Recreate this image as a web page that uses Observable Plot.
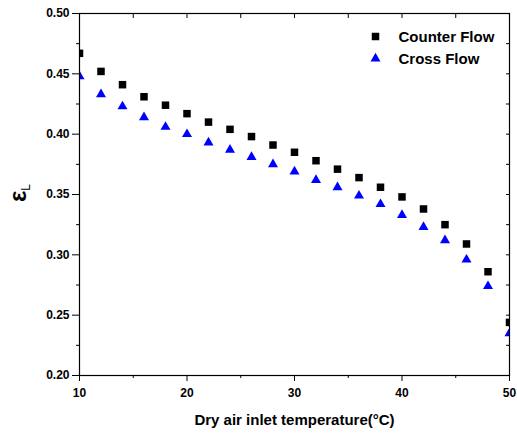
<!DOCTYPE html>
<html>
<head>
<meta charset="utf-8">
<script src="https://cdn.jsdelivr.net/npm/d3@7"></script>
<script src="https://cdn.jsdelivr.net/npm/@observablehq/plot@0.6"></script>
<style>
  body { margin: 0; background: #fff; }
  svg { font-family: "Liberation Sans", Arial, sans-serif; }
</style>
</head>
<body>
<div id="chart"></div>
<script>
// Dry air inlet temperature (°C)
const temperature = [10, 12, 14, 16, 18, 20, 22, 24, 26, 28, 30, 32, 34, 36, 38, 40, 42, 44, 46, 48, 50];
// Effectiveness ε_L for each flow arrangement
const counterFlow = [0.467, 0.452, 0.441, 0.431, 0.424, 0.417, 0.410, 0.404, 0.398, 0.391, 0.385, 0.378, 0.371, 0.364, 0.356, 0.348, 0.338, 0.325, 0.309, 0.286, 0.244];
const crossFlow   = [0.448, 0.433, 0.423, 0.414, 0.406, 0.400, 0.393, 0.387, 0.381, 0.375, 0.369, 0.362, 0.356, 0.349, 0.342, 0.333, 0.323, 0.312, 0.296, 0.274, 0.235];
const seriesNames = ["Counter Flow", "Cross Flow"];

const xTicks = [10, 20, 30, 40, 50];
const xMinorTicks = [15, 25, 35, 45];
const yTicks = [0.20, 0.25, 0.30, 0.35, 0.40, 0.45, 0.50];
const yMinorTicks = [0.225, 0.275, 0.325, 0.375, 0.425, 0.475];
const xTitle = "Dry air inlet temperature(°C)";

const counterData = temperature.map((t, i) => ({t, v: counterFlow[i]}));
const crossData = temperature.map((t, i) => ({t, v: crossFlow[i]}));

// d3 symbol sizes are areas; r is chosen so the area matches the marker
const squareR = 7.5 / Math.sqrt(Math.PI);
const triR = Math.sqrt((Math.sqrt(3) / 4 * 100) / Math.PI);

const tickFont = {fontSize: 12, fontWeight: "bold"};
const noText = () => "";

const plot = Plot.plot({
  width: 517,
  height: 437,
  marginLeft: 79,
  marginRight: 8,
  marginTop: 13,
  marginBottom: 62,
  style: {fontFamily: "'Liberation Sans', Arial, sans-serif", color: "#000", background: "#fff"},
  x: {domain: [10, 50]},
  y: {domain: [0.2, 0.5]},
  marks: [
    // outward ticks, left and bottom
    Plot.axisX(xTicks, {anchor: "bottom", tickSize: 6, tickPadding: 7, tickFormat: d => d, label: null, ...tickFont}),
    Plot.axisX(xMinorTicks, {anchor: "bottom", tickSize: 3, tickFormat: noText, label: null}),
    Plot.axisY(yTicks, {anchor: "left", tickSize: 7, tickPadding: 3, tickFormat: d3.format(".2f"), label: null, ...tickFont}),
    Plot.axisY(yMinorTicks, {anchor: "left", tickSize: 3, tickFormat: noText, label: null}),
    // inward ticks, top and right
    Plot.axisX([...xTicks, ...xMinorTicks], {anchor: "top", tickSize: -4, tickFormat: noText, label: null}),
    Plot.axisY([...yTicks, ...yMinorTicks], {anchor: "right", tickSize: -4, tickFormat: noText, label: null}),
    Plot.dot(counterData, {x: "t", y: "v", symbol: "square", r: squareR, fill: "#000", stroke: "none", clip: true}),
    Plot.dot(crossData, {x: "t", y: "v", symbol: "triangle", r: triR, fill: "#0000ff", stroke: "none", clip: true}),
    Plot.frame({stroke: "#000", strokeWidth: 1.2}),
    // legend
    Plot.dot([seriesNames[0]], {frameAnchor: "top-left", dx: 296, dy: 23, symbol: "square", r: squareR, fill: "#000", stroke: "none"}),
    Plot.dot([seriesNames[1]], {frameAnchor: "top-left", dx: 296, dy: 45, symbol: "triangle", r: triR, fill: "#0000ff", stroke: "none"}),
    Plot.text([seriesNames[0]], {frameAnchor: "top-left", dx: 319, dy: 18, text: d => d, textAnchor: "start", fontSize: 15, fontWeight: "bold", letterSpacing: -0.3}),
    Plot.text([seriesNames[1]], {frameAnchor: "top-left", dx: 319, dy: 40, text: d => d, textAnchor: "start", fontSize: 15, fontWeight: "bold", letterSpacing: -0.3}),
    // x axis title
    Plot.text([xTitle], {frameAnchor: "bottom", dy: 49, text: d => d, fontSize: 15, fontWeight: "bold", letterSpacing: -0.15})
  ]
});

// y axis title: ε with subscript L, rotated
const svg = d3.select(plot);
const yTitle = svg.append("text")
  .attr("transform", "translate(26,193) rotate(-90)")
  .attr("text-anchor", "middle")
  .attr("font-size", 24)
  .attr("font-weight", "bold")
  .attr("fill", "#000");
yTitle.append("tspan").text("ε");
yTitle.append("tspan").attr("font-size", 12).attr("font-weight", "normal").attr("dy", 4).text("L");

document.getElementById("chart").appendChild(plot);
</script>
</body>
</html>
